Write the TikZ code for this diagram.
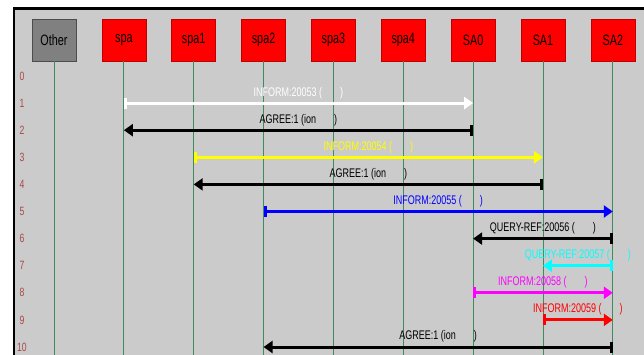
\documentclass[tikz,border=0pt]{standalone}
\usepackage{fontspec}
\setmainfont{Liberation Sans}
\newfontfamily\lblfont[FakeStretch=0.72]{Liberation Sans}
\usetikzlibrary{arrows.meta,positioning,calc}

\definecolor{panelgray}{HTML}{CBCBCB}
\definecolor{lifegreen}{HTML}{3F8A5E}
\definecolor{rownum}{HTML}{A84848}
\definecolor{msgyellow}{HTML}{FFFF00}
\definecolor{msgblue}{HTML}{0000FF}
\definecolor{msgcyan}{HTML}{00FFFF}
\definecolor{msgmagenta}{HTML}{FF00FF}
\definecolor{msgred}{HTML}{FF0000}
\newcommand\gap{\hspace{18pt}}

\begin{document}
\begin{tikzpicture}[x=1pt,y=-1pt,
  agent/.style={draw=msgred!75!black, line width=0.6pt, fill=msgred, minimum width=44pt, minimum height=42pt, inner sep=0pt, font=\lblfont\fontsize{15}{15}\selectfont},
  life/.style={lifegreen, line width=0.8pt},
  num/.style={rownum, font=\lblfont\fontsize{12}{12}\selectfont},
  msg/.style={line width=3pt, {Rectangle[length=3pt,width=11pt]}-{Triangle[length=9pt,width=12pt]}},
  lbl/.style={midway, above=2pt, inner sep=1pt, font=\lblfont\fontsize{12.5}{12.5}\selectfont}]
\useasboundingbox (0,0) rectangle (644,355);
\fill[white] (0,0) rectangle (644,355);
\fill[panelgray] (14,9) rectangle (644,355);
\draw[line width=2.5pt] (14,356) -- (14,8.5) -- (645,8.5);
\coordinate (bottom) at (0,355);
% agents
\node[agent, draw=gray!60!black, fill=gray] (Other) at (54,40) {Other};
\foreach \n [count=\i] in {spa,spa1,spa2,spa3,spa4,SA0,SA1,SA2}
  \node[agent] (\n) at (54+69.85*\i,40) {\n};
\foreach \n in {Other,spa,spa1,spa2,spa3,spa4,SA0,SA1,SA2}
  \draw[life] (\n.south) -- (\n.south |- bottom);
% row numbers
\foreach \k in {0,...,10}
  \node[num] (r\k) at (22,76+27.1*\k) {\k};
% messages
\foreach \k/\a/\b/\c/\t in {1/spa/SA0/white/{INFORM:20053 (\gap)},
    2/SA0/spa/black/{AGREE:1 (ion\gap)},
    3/spa1/SA1/msgyellow/{INFORM:20054 (\gap)},
    4/SA1/spa1/black/{AGREE:1 (ion\gap)},
    5/spa2/SA2/msgblue/{INFORM:20055 (\gap)},
    6/SA2/SA0/black/{QUERY-REF:20056 (\gap)},
    7/SA2/SA1/msgcyan/{QUERY-REF:20057 (\gap)},
    8/SA0/SA2/msgmagenta/{INFORM:20058 (\gap)},
    9/SA1/SA2/msgred/{INFORM:20059 (\gap)},
    10/SA2/spa2/black/{AGREE:1 (ion\gap)}}
  \draw[msg, \c] (\a |- r\k) -- (\b |- r\k) node[lbl] {\t};
\end{tikzpicture}
\end{document}
